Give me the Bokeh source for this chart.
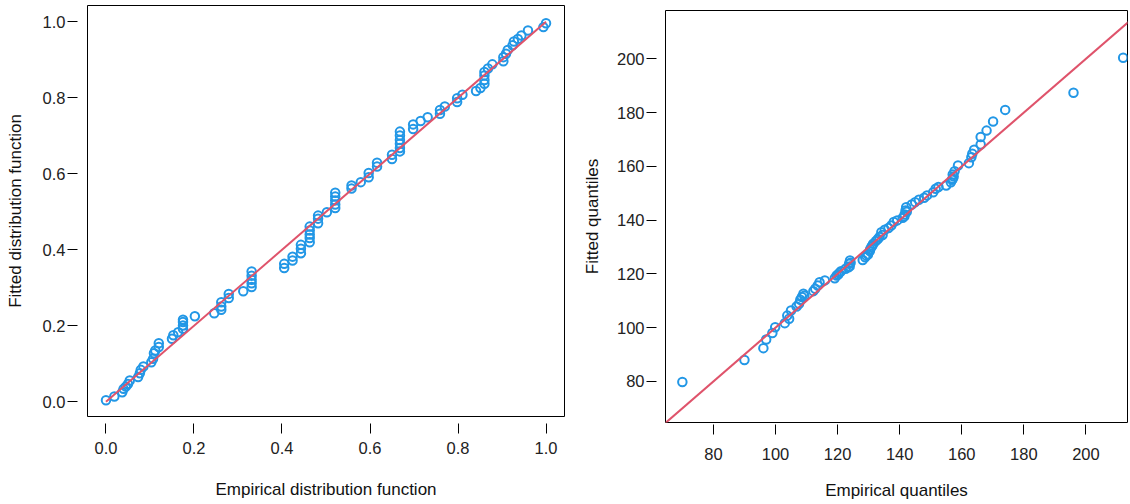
from bokeh.plotting import figure
from bokeh.layouts import row
from bokeh.models import Range1d, FixedTicker, PrintfTickFormatter
from bokeh.embed import file_html
from bokeh.resources import INLINE

# ---- data: P-P plot (left) ----
pp_emp = [0.0, 0.019, 0.037, 0.040, 0.045, 0.050, 0.054, 0.073, 0.077, 0.079,
          0.085, 0.103, 0.107, 0.109, 0.112, 0.120, 0.120, 0.150, 0.153, 0.164,
          0.175, 0.175, 0.175, 0.175, 0.202, 0.246, 0.262, 0.262, 0.262, 0.279,
          0.279, 0.312, 0.331, 0.331, 0.331, 0.331, 0.331, 0.405, 0.405, 0.424,
          0.424, 0.443, 0.443, 0.443, 0.463, 0.463, 0.463, 0.463, 0.463, 0.482,
          0.482, 0.482, 0.502, 0.521, 0.521, 0.521, 0.521, 0.521, 0.558, 0.558,
          0.579, 0.597, 0.597, 0.616, 0.616, 0.650, 0.650, 0.668, 0.668, 0.668,
          0.668, 0.668, 0.668, 0.698, 0.698, 0.715, 0.731, 0.759, 0.759, 0.770,
          0.798, 0.798, 0.810, 0.841, 0.851, 0.860, 0.860, 0.860, 0.860, 0.868,
          0.878, 0.903, 0.903, 0.909, 0.913, 0.924, 0.927, 0.936, 0.944, 0.959,
          0.994, 1.000]
pp_fit = [0.004, 0.014, 0.025, 0.034, 0.040, 0.047, 0.056, 0.065, 0.075, 0.084,
          0.093, 0.104, 0.113, 0.128, 0.135, 0.144, 0.154, 0.166, 0.175, 0.183,
          0.192, 0.201, 0.210, 0.216, 0.225, 0.233, 0.242, 0.251, 0.262, 0.273,
          0.284, 0.291, 0.302, 0.312, 0.321, 0.332, 0.343, 0.352, 0.363, 0.372,
          0.382, 0.391, 0.403, 0.413, 0.420, 0.431, 0.440, 0.451, 0.461, 0.470,
          0.482, 0.490, 0.499, 0.510, 0.519, 0.530, 0.540, 0.550, 0.561, 0.569,
          0.578, 0.591, 0.602, 0.619, 0.629, 0.639, 0.650, 0.659, 0.668, 0.679,
          0.689, 0.701, 0.711, 0.718, 0.730, 0.739, 0.749, 0.758, 0.768, 0.777,
          0.789, 0.799, 0.808, 0.818, 0.826, 0.837, 0.847, 0.859, 0.868, 0.877,
          0.888, 0.896, 0.907, 0.916, 0.926, 0.938, 0.948, 0.955, 0.964, 0.977,
          0.986, 0.996]
pp_ticks = [0.0, 0.2, 0.4, 0.6, 0.8, 1.0]

# ---- data: Q-Q plot (right) ----
qq_emp = [70, 90, 96.1, 97, 99, 99.9, 103, 104.4, 103.8, 105, 106.8, 107.6, 108,
          108.5, 109, 109.3, 112.2, 112.8, 113.6, 114.2, 115.9, 119.1, 119.7, 120.2,
          120.5, 121.1, 122.6, 123.5, 123.7, 123.9, 124, 124.2, 128.1, 128.9, 129.3,
          129.8, 130.4, 130.5, 130.9, 131.2, 131.5, 132.3, 133, 133.5, 134.1, 134.5,
          135.2, 136.4, 137.3, 138.1, 139.2, 141, 141.5, 141.6, 141.9, 142.1, 142.3,
          143.9, 145, 146.2, 147.9, 148.8, 150.8, 151.6, 152.5, 155, 156.5, 156.9,
          157.1, 157.1, 157.4, 157.7, 158.8, 162.3, 163.1, 163.4, 164, 166.1, 166.1,
          168, 170.1, 174, 196, 212]
qq_fit = [79.8, 88, 92.4, 95.6, 98, 100.2, 101.7, 103.3, 104.5, 106.4, 107.9, 108.9,
          110.4, 111.4, 112.6, 111.9, 113.6, 114.5, 115.7, 116.9, 117.6, 118.4, 119.4,
          119.8, 120.3, 121, 121.9, 122.5, 123.8, 122.8, 125, 124.2, 125.2, 126.2,
          126.8, 127.2, 128.5, 129.2, 130, 130.6, 131.2, 132.2, 133, 133.7, 135.5,
          134.5, 136.4, 137.1, 138, 139.3, 139.9, 140.9, 141.4, 142.1, 143.6, 144.8,
          143.1, 145.8, 146.7, 147.6, 148.3, 149.2, 150.4, 151.7, 152.3, 152.9, 154.1,
          155.0, 155.4, 157, 156.2, 158.2, 160.3, 161.2, 163.4, 164.7, 166.2, 168.1,
          170.9, 173.3, 176.7, 181, 187.4, 200.4]
qq_xticks = [80, 100, 120, 140, 160, 180, 200]
qq_yticks = [80, 100, 120, 140, 160, 180, 200]

BLUE = "#2297E6"
RED = "#DF536B"
FONT = "Liberation Sans"


def style(p, xgap, xlen, ygap, ylen):
    p.grid.visible = False
    p.outline_line_color = "black"
    p.outline_line_width = 1
    p.background_fill_color = "white"
    p.border_fill_color = "white"
    for ax in (p.xaxis[0], p.yaxis[0]):
        ax.axis_line_color = None
        ax.minor_tick_line_color = None
        ax.major_tick_line_color = "black"
        ax.major_tick_line_width = 1
        ax.major_label_text_font = FONT
        ax.major_label_text_font_size = "16.5px"
        ax.major_label_text_color = "#222222"
        ax.axis_label_text_font = FONT
        ax.axis_label_text_font_size = "17px"
        ax.axis_label_text_font_style = "normal"
        ax.axis_label_text_color = "#111111"
    p.xaxis.major_tick_in = -xgap
    p.xaxis.major_tick_out = xgap + xlen
    p.yaxis.major_tick_in = -ygap
    p.yaxis.major_tick_out = ygap + ylen
    p.yaxis.major_label_orientation = "horizontal"


H = 504

# ---- left: P-P ----
p1 = figure(width=570, height=H, output_backend="svg", toolbar_location=None,
            x_range=Range1d(-0.042, 1.042), y_range=Range1d(-0.0387, 1.0429),
            min_border_left=87, min_border_right=6, min_border_top=5,
            min_border_bottom=88, frame_align=False)
style(p1, 7, 10, 10, 10)
p1.xaxis.ticker = FixedTicker(ticks=pp_ticks)
p1.yaxis.ticker = FixedTicker(ticks=pp_ticks)
p1.xaxis.formatter = PrintfTickFormatter(format="%.1f")
p1.yaxis.formatter = PrintfTickFormatter(format="%.1f")
p1.xaxis.axis_label = "Empirical distribution function"
p1.yaxis.axis_label = "Fitted distribution function"
p1.xaxis.major_label_standoff = 8
p1.xaxis.axis_label_standoff = 23
p1.yaxis.major_label_standoff = 2
p1.yaxis.axis_label_standoff = 15
p1.scatter(pp_emp, pp_fit, size=8.5, marker="circle", fill_color=None,
           line_color=BLUE, line_width=2)
p1.line([min(pp_ticks), max(pp_ticks)], [min(pp_ticks), max(pp_ticks)],
        line_color=RED, line_width=2)

# ---- right: Q-Q ----
lo = min(min(qq_emp), min(qq_fit))
hi = max(max(qq_emp), max(qq_fit))
p2 = figure(width=558, height=H, output_backend="svg", toolbar_location=None,
            x_range=Range1d(64.57, 213.4), y_range=Range1d(64.75, 217.96),
            min_border_left=95, min_border_right=1, min_border_top=10,
            min_border_bottom=82, frame_align=False)
style(p2, 2, 10, 9, 10)
p2.xaxis.ticker = FixedTicker(ticks=qq_xticks)
p2.yaxis.ticker = FixedTicker(ticks=qq_yticks)
p2.xaxis.axis_label = "Empirical quantiles"
p2.yaxis.axis_label = "Fitted quantiles"
p2.xaxis.major_label_standoff = 13
p2.xaxis.axis_label_standoff = 18
p2.yaxis.major_label_standoff = 2
p2.yaxis.axis_label_standoff = 12
p2.scatter(qq_emp, qq_fit, size=8.5, marker="circle", fill_color=None,
           line_color=BLUE, line_width=2)
span = hi - lo
p2.line([lo - span, hi + span], [lo - span, hi + span], line_color=RED, line_width=2)

layout = row(p1, p2)
open("out.html", "w").write(file_html(layout, INLINE))
